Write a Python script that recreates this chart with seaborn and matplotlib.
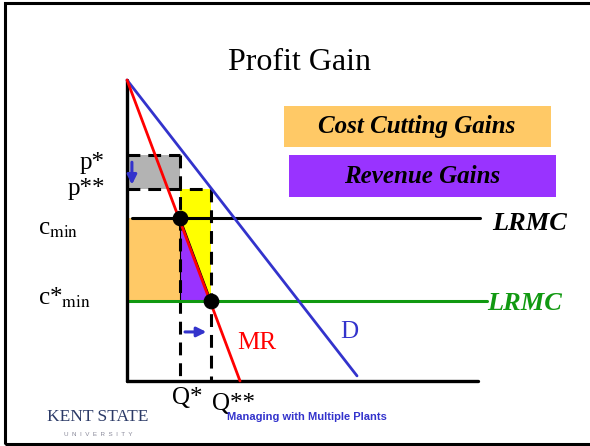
import seaborn as sns
import matplotlib.pyplot as plt
from matplotlib.patches import Rectangle, Polygon

# values (quantity across, price up)
demand_q = [0.0, 9.83]
demand_p = [10.0, 0.17]
mr_q = [0.0, 4.83]
mr_p = [10.0, 0.0]
q_star, q_star2 = 2.26, 3.59
p_star, p_star2 = 7.51, 6.38
c_min, c_min_new = 5.42, 2.66
q_axis_end, p_axis_end = 15.0, 10.0
lrmc_q = [0.21, 15.09]
lrmc_new_q = [0.0, 15.38]

sns.set_theme(style="white")
plt.rcParams['font.family'] = ['Liberation Serif', 'DejaVu Serif']
plt.rcParams['mathtext.fontset'] = 'stix'
plt.rcParams['text.color'] = 'black'

W, H = 590, 446
sx, sy = 23.4, 30.1      # pixels per unit
x0, y0 = 127, 381        # origin in pixels

fig = plt.figure(figsize=(W / 100, H / 100), dpi=100)
fig.patch.set_facecolor('white')
ax = fig.add_axes([0, 0, 1, 1])
ax.set_xlim(-x0 / sx, (W - x0) / sx)
ax.set_ylim(-(H - y0) / sy, y0 / sy)
ax.axis('off')

BLUE = '#3333CC'
RED = '#FF0000'
GREEN = '#119911'

# --- filled areas ---
ax.fill_between([0, q_star], p_star2, p_star, color='#B3B3B3', lw=0, zorder=1)
ax.fill_between([0, q_star], c_min_new, c_min, color='#FFC966', lw=0, zorder=1)
ax.fill_between([q_star, q_star2], c_min_new, p_star2, color='#FFFF00', lw=0, zorder=1)
ax.add_patch(Polygon([(q_star, c_min), (q_star, c_min_new), (q_star2, c_min_new)],
                     closed=True, fc='#9933FF', ec='black', lw=0.8, zorder=2))

# --- dashed guides ---
dash = dict(color='black', lw=2.2, dashes=(4.2, 2.6), zorder=3)
ax.plot([0, q_star], [p_star, p_star], **dash)
ax.plot([0, q_star2], [p_star2, p_star2], **dash)
ax.plot([q_star, q_star], [p_star, 0], **dash)
ax.plot([q_star2, q_star2], [p_star2, 0], **dash)

# --- cost lines ---
sns.lineplot(x=lrmc_q, y=[c_min, c_min], ax=ax, color='black', lw=2.2, zorder=4)
sns.lineplot(x=lrmc_new_q, y=[c_min_new, c_min_new], ax=ax, color=GREEN, lw=2.2, zorder=4)

# --- axes ---
ax.plot([0, 0], [0, p_axis_end], color='black', lw=2.4, zorder=5)
ax.plot([0, q_axis_end], [0, 0], color='black', lw=2.4, zorder=5)

# --- demand and MR ---
sns.lineplot(x=demand_q, y=demand_p, ax=ax, color=BLUE, lw=2.0, zorder=6)
sns.lineplot(x=mr_q, y=mr_p, ax=ax, color=RED, lw=2.0, zorder=6)

sns.scatterplot(x=[q_star, q_star2], y=[c_min, c_min_new], ax=ax, color='black',
                s=110, edgecolor='black', zorder=7)

# arrows
arr = dict(arrowstyle='-|>', color=BLUE, lw=2.2, mutation_scale=14)
ax.annotate('', xy=(0.21, p_star2 + 0.05), xytext=(0.21, p_star - 0.15), arrowprops=arr, zorder=8)
ax.annotate('', xy=(q_star2 - 0.08, 1.63), xytext=(q_star + 0.1, 1.63), arrowprops=arr, zorder=8)

# --- labels ---
lab = dict(fontsize=18, color='black')
ax.text(-0.94, p_star - 0.27, 'p*', ha='right', va='center', **lab)
ax.text(-0.94, p_star2, 'p**', ha='right', va='center', **lab)
ax.text(-3.8, c_min - 0.37, r'c$_{\mathrm{min}}$', ha='left', va='center', **lab)
ax.text(-3.8, c_min_new + 0.1, r'c*$_{\mathrm{min}}$', ha='left', va='center', **lab)
ax.text(q_star + 0.3, -0.2, 'Q*', ha='center', va='top', **lab)
ax.text(q_star2 + 0.05, -0.4, 'Q**', ha='left', va='top', **lab)
ax.text(4.7, 1.26, 'MR', ha='left', va='center', fontsize=18, color=RED)
ax.text(9.1, 1.63, 'D', ha='left', va='center', fontsize=18, color=BLUE)
ax.text(15.6, 5.22, 'LRMC', ha='left', va='center', fontsize=19,
        fontweight='bold', style='italic', color='black')
ax.text(15.4, 2.59, 'LRMC', ha='left', va='center', fontsize=19,
        fontweight='bold', style='italic', color=GREEN)

# --- slide furniture ---
fig.text(300 / W, 1 - 62 / H, 'Profit Gain', ha='center', va='center', fontsize=23)

fig.patches.append(Rectangle((284 / W, 1 - 147 / H), 267 / W, 41 / H,
                             transform=fig.transFigure, fc='#FFC966', ec='none'))
fig.text(417 / W, 1 - 127 / H, 'Cost Cutting Gains', ha='center', va='center',
         fontsize=18, fontweight='bold', style='italic')
fig.patches.append(Rectangle((289 / W, 1 - 197 / H), 267 / W, 42 / H,
                             transform=fig.transFigure, fc='#9933FF', ec='none'))
fig.text(422 / W, 1 - 177 / H, 'Revenue Gains', ha='center', va='center',
         fontsize=18, fontweight='bold', style='italic')

fig.text(98 / W, 1 - 417 / H, 'KENT STATE', ha='center', va='center',
         fontsize=12.5, color='#2B3A67')
fig.text(98 / W, 1 - 434 / H, 'U  N  I  V  E  R  S  I  T  Y', ha='center', va='center',
         fontsize=4.5, color='#888899', family='Liberation Sans')
fig.text(227 / W, 1 - 417 / H, 'Managing with Multiple Plants', ha='left', va='center',
         fontsize=8, fontweight='bold', color=BLUE, family='Liberation Sans')

fig.patches.append(Rectangle((5 / W, 1 - 444 / H), 1.0, 441 / H, transform=fig.transFigure,
                             fill=False, ec='black', lw=2.2))

fig.savefig('out.png', dpi=100)
